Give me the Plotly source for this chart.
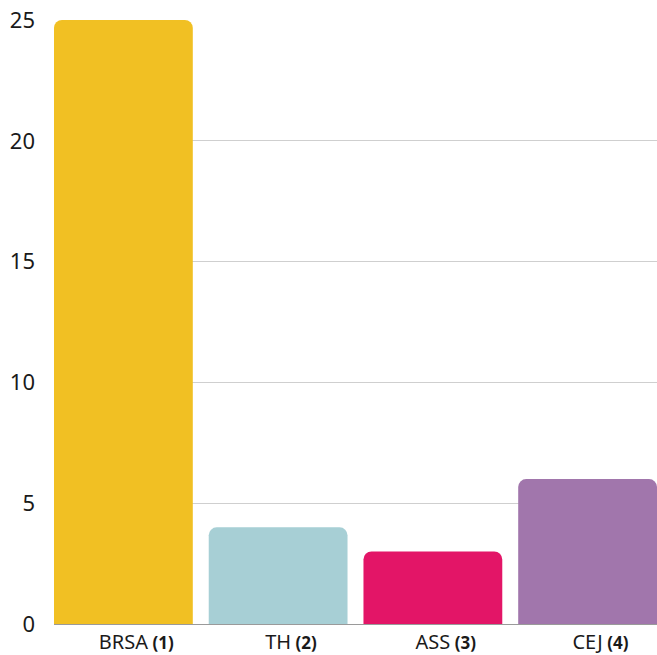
import plotly.graph_objects as go

# Bar values per beneficiary category
categories = ["BRSA", "TH", "ASS", "CEJ"]
notes = ["(1)", "(2)", "(3)", "(4)"]
values = [25, 4, 3, 6]
colors = ["#F1C023", "#A7CFD5", "#E31567", "#A176AC"]
y_ticks = [0, 5, 10, 15, 20, 25]

note_style = "font-size:17px"


def tick_label(name, note):
    # invisible copy of the note on the left keeps the name centred under its bar
    ghost = f'<span style="color:rgba(0,0,0,0);{note_style}"><b>{note} </b></span>'
    return f'{ghost}{name}<span style="{note_style}"><b> {note}</b></span>'


fig = go.Figure(
    go.Bar(
        x=list(range(len(categories))),
        y=values,
        marker=dict(color=colors, line=dict(width=0)),
        width=0.897,
        hoverinfo="skip",
    )
)

fig.update_layout(
    width=657,
    height=655,
    margin=dict(l=54, r=0, t=20, b=31, autoexpand=False),
    paper_bgcolor="white",
    plot_bgcolor="white",
    barcornerradius=8,
    showlegend=False,
    font=dict(family="Noto Sans, sans-serif", color="#1a1a1a"),
    xaxis=dict(
        range=[-0.4485, 3.4485],
        tickmode="array",
        tickvals=list(range(len(categories))),
        ticktext=[tick_label(c, n) for c, n in zip(categories, notes)],
        tickfont=dict(size=20, color="#1a1a1a"),
        showgrid=False,
        showline=True,
        linecolor="#9a9a9a",
        linewidth=1,
        ticks="",
        zeroline=False,
        ticklabelstandoff=0,
        automargin=False,
    ),
    yaxis=dict(
        range=[0, 25],
        tickmode="array",
        tickvals=y_ticks,
        tickfont=dict(size=22, color="#1a1a1a"),
        showgrid=True,
        gridcolor="#cfcfcf",
        gridwidth=1,
        zeroline=False,
        showline=False,
        ticks="",
        ticklabelstandoff=18,
        automargin=False,
    ),
)

fig.write_html("out.html")
